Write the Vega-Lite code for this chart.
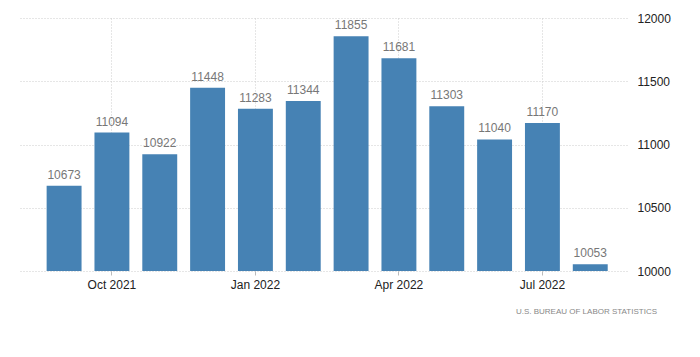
{
  "$schema": "https://vega.github.io/schema/vega-lite/v6.json",
  "autosize": "none",
  "width": 607,
  "height": 253,
  "padding": {"left": 20, "top": 18, "right": 73, "bottom": 86},
  "background": "white",
  "data": {"values": [
    {"month": "Sep 2021", "value": 10673},
    {"month": "Oct 2021", "value": 11094},
    {"month": "Nov 2021", "value": 10922},
    {"month": "Dec 2021", "value": 11448},
    {"month": "Jan 2022", "value": 11283},
    {"month": "Feb 2022", "value": 11344},
    {"month": "Mar 2022", "value": 11855},
    {"month": "Apr 2022", "value": 11681},
    {"month": "May 2022", "value": 11303},
    {"month": "Jun 2022", "value": 11040},
    {"month": "Jul 2022", "value": 11170},
    {"month": "Aug 2022", "value": 10053}
  ]},
  "title": {
    "text": "U.S.  BUREAU  OF  LABOR  STATISTICS",
    "orient": "bottom",
    "anchor": "end",
    "frame": "group",
    "fontSize": 8,
    "font": "Liberation Sans",
    "fontWeight": "normal",
    "color": "#888888",
    "offset": 18,
    "dx": 30
  },
  "config": {
    "view": {"stroke": null},
    "axis": {"labelFont": "Liberation Sans", "labelFontSize": 12, "labelColor": "#222222"}
  },
  "encoding": {
    "x": {
      "field": "month", "type": "ordinal", "sort": null,
      "scale": {"paddingInner": 0.27, "paddingOuter": 0.48, "align": 0.58},
      "axis": {
        "title": null,
        "values": ["Oct 2021", "Jan 2022", "Apr 2022", "Jul 2022"],
        "labelAngle": 0,
        "bandPosition": 0.5,
        "grid": true,
        "gridColor": "#cccccc",
        "gridDash": [1, 2],
        "domain": false,
        "tickColor": "#bbbbbb",
        "tickSize": 4,
        "labelPadding": 4
      }
    }
  },
  "layer": [
    {
      "mark": {"type": "bar", "color": "#4682b4"},
      "encoding": {
        "y": {
          "field": "value", "type": "quantitative",
          "scale": {"domain": [10000, 12000], "zero": false, "nice": false},
          "axis": {
            "title": null,
            "orient": "right",
            "format": "d",
            "values": [10000, 10500, 11000, 11500, 12000],
            "grid": true,
            "gridColor": "#cccccc",
            "gridDash": [1, 2],
            "domain": false,
            "ticks": false,
            "labelPadding": 10
          }
        },
        "y2": {"datum": 10000}
      }
    },
    {
      "mark": {"type": "text", "dy": -11, "fontSize": 12, "font": "Liberation Sans", "color": "#777777"},
      "encoding": {
        "y": {"field": "value", "type": "quantitative"},
        "text": {"field": "value", "type": "quantitative", "format": "d"}
      }
    }
  ]
}
